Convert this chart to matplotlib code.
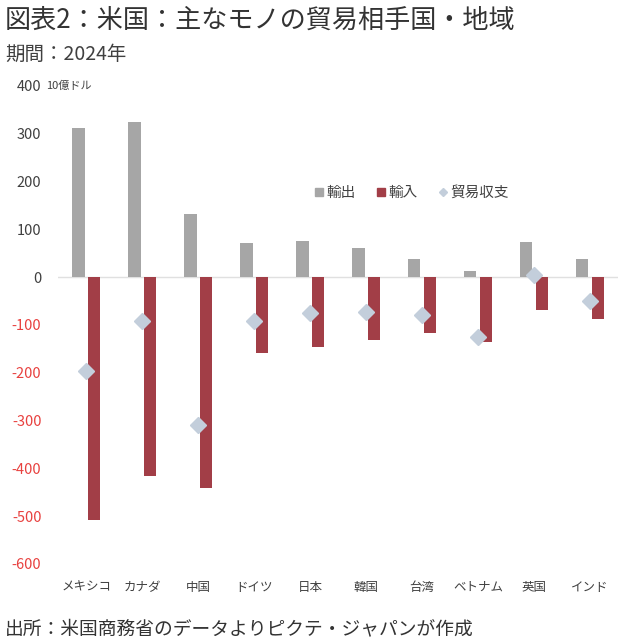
import numpy as np
import matplotlib
matplotlib.use("Agg")
import matplotlib.pyplot as plt
from matplotlib.lines import Line2D

plt.rcParams['font.family'] = ['Noto Sans CJK JP', 'DejaVu Sans']

#-----------------------------------------------------------------------------
# data (10億ドル, 2024年)
countries = ["メキシコ", "カナダ", "中国", "ドイツ", "日本", "韓国", "台湾", "ベトナム", "英国", "インド"]
exports = [312, 324, 132, 72, 75, 62, 38, 12, 73, 38]
imports = [-507, -415, -441, -159, -146, -131, -116, -135, -68, -88]
balance = [-196, -91, -310, -91, -75, -72, -79, -126, 5, -49]
yticks = [400, 300, 200, 100, 0, -100, -200, -300, -400, -500, -600]

#-----------------------------------------------------------------------------
c_exp = "#a6a6a6"
c_imp = "#a23e47"
c_bal = "#c3cedb"
c_txt = "#404040"

fig = plt.figure(figsize=(6.18, 6.43), dpi=100)
ax = fig.add_axes([0.094, 0.1229, 0.906, 0.7434])

x = np.arange(len(countries))
w = 0.225
off = 0.14
ax.bar(x - off, exports, width=w, color=c_exp, zorder=2)
ax.bar(x + off, imports, width=w, color=c_imp, zorder=2)
ax.plot(x, balance, "D", color=c_bal, markersize=8.5, linestyle="none", zorder=3)
ax.axhline(0, color="#e0e0e0", linewidth=1, zorder=1)

ax.set_xlim(-0.5, len(countries) - 0.5)
ax.set_ylim(-600, 400)
ax.set_yticks(yticks)
ax.set_yticklabels([str(v) for v in yticks], fontsize=10.5)
for lab, v in zip(ax.get_yticklabels(), yticks):
    lab.set_color("#e8413f" if v < 0 else c_txt)
ax.set_xticks(x)
ax.set_xticklabels(countries, fontsize=9, color=c_txt)
ax.tick_params(axis="both", length=0)
ax.tick_params(axis="x", pad=12)
ax.tick_params(axis="y", pad=12)
for s in ax.spines.values():
    s.set_visible(False)

# unit label
fig.text(0.074, 0.867, "10億ドル", fontsize=8, color=c_txt, va="center")

# legend
handles = [
    Line2D([], [], marker="s", color=c_exp, linestyle="none", markersize=5.5),
    Line2D([], [], marker="s", color=c_imp, linestyle="none", markersize=5.5),
    Line2D([], [], marker="D", color=c_bal, linestyle="none", markersize=4.5),
]
leg = ax.legend(handles, ["輸出", "輸入", "貿易収支"], ncol=3, frameon=False,
                loc="center", bbox_to_anchor=(0.63, 0.776), fontsize=10.5,
                handletextpad=0.05, columnspacing=1.3, handlelength=0.9)
for t in leg.get_texts():
    t.set_color(c_txt)

# titles
fig.text(0.008, 0.968, "図表2：米国：主なモノの貿易相手国・地域", fontsize=18.8,
         color="#333333", va="center")
fig.text(0.008, 0.915, "期間：2024年", fontsize=14, color="#404040", va="center")
fig.text(0.008, 0.022, "出所：米国商務省のデータよりピクテ・ジャパンが作成", fontsize=13.5,
         color="#333333", va="center")

plt.savefig("out.png", dpi=100)
